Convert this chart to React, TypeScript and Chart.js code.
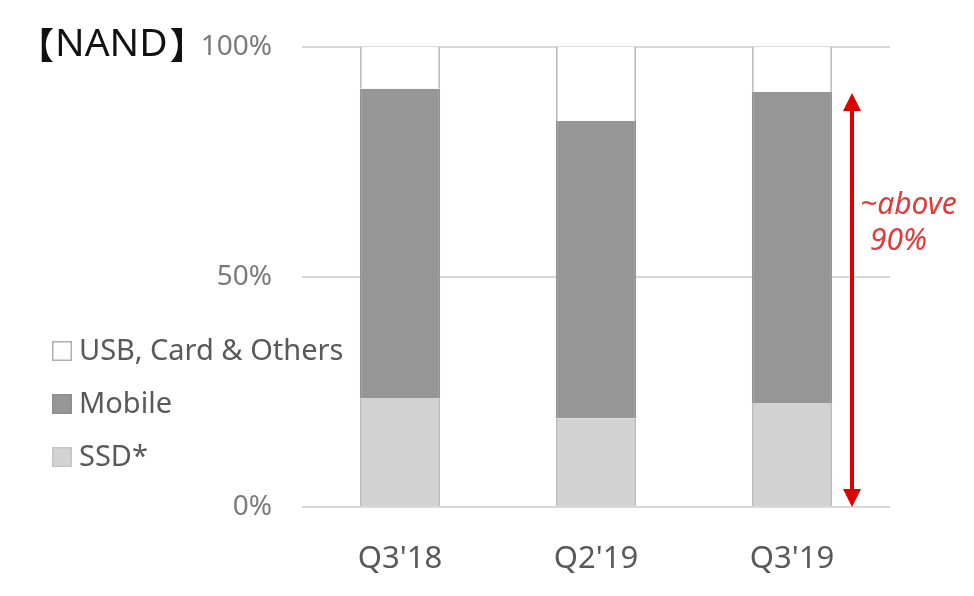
import React, { useEffect, useRef } from "react";
import { Chart, registerables } from "chart.js";

Chart.register(...registerables);

const quarters = ["Q3'18", "Q2'19", "Q3'19"];
const ssdShare = [23.7, 19.3, 22.6];
const mobileShare = [67.2, 64.6, 67.6];
const othersShare = [9.1, 16.1, 9.8];
const yTicks = [0, 50, 100];
const arrowRange = [0, 90];
const noteLines = ["~above", "90%"];
const titleText = "NAND";

const FONT = '"Noto Sans", "Noto Sans CJK KR", sans-serif';

// title, left legend, red arrow and its note
const extrasPlugin = {
  id: "extras",
  afterDraw(chart: any) {
    const ctx = chart.ctx as CanvasRenderingContext2D;
    const xs = chart.scales.x;
    const ys = chart.scales.y;
    ctx.save();

    // 【NAND】 with narrow brackets
    ctx.fillStyle = "#111";
    ctx.textBaseline = "middle";
    ctx.textAlign = "left";
    ctx.font = `39px ${FONT}`;
    const tw = ctx.measureText(titleText).width;
    ctx.fillText(titleText, 55, 45);
    ctx.font = `bold 36px "Noto Sans CJK KR", ${FONT}`;
    const open = ctx.measureText("【");
    ctx.fillText("【", 53 - open.actualBoundingBoxRight, 45);
    const close = ctx.measureText("】");
    ctx.fillText("】", 55 + tw + 3 + close.actualBoundingBoxLeft, 45);

    // legend, top item = top of the stack
    const items = [...chart.data.datasets].reverse();
    ctx.font = `29px ${FONT}`;
    items.forEach((ds: any, i: number) => {
      const cy = 351 + i * 53;
      ctx.fillStyle = ds.backgroundColor;
      ctx.fillRect(52, cy - 10, 20, 20);
      ctx.strokeStyle = ds.legendBorder;
      ctx.lineWidth = 1.5;
      ctx.strokeRect(52.75, cy - 9.25, 18.5, 18.5);
      ctx.fillStyle = "#595959";
      ctx.fillText(ds.label, 79, cy + 1);
    });

    // arrow
    const ax = xs.getPixelForValue(quarters.length - 1) + 60;
    const yTop = ys.getPixelForValue(arrowRange[1]);
    const yBot = ys.getPixelForValue(arrowRange[0]);
    const head = 18;
    ctx.strokeStyle = "#e00000";
    ctx.fillStyle = "#e00000";
    ctx.lineWidth = 4;
    ctx.beginPath();
    ctx.moveTo(ax, yTop + head);
    ctx.lineTo(ax, yBot - head);
    ctx.stroke();
    ctx.beginPath();
    ctx.moveTo(ax, yTop);
    ctx.lineTo(ax - 9, yTop + head);
    ctx.lineTo(ax + 9, yTop + head);
    ctx.closePath();
    ctx.fill();
    ctx.beginPath();
    ctx.moveTo(ax, yBot);
    ctx.lineTo(ax - 9, yBot - head);
    ctx.lineTo(ax + 9, yBot - head);
    ctx.closePath();
    ctx.fill();

    ctx.fillStyle = "#e23a3a";
    ctx.font = `italic 30px ${FONT}`;
    ctx.textBaseline = "alphabetic";
    ctx.fillText(noteLines[0], ax + 8, 214);
    ctx.fillText(noteLines[1], ax + 18, 250);
    ctx.restore();
  },
};

const App: React.FC = () => {
  const canvasRef = useRef<HTMLCanvasElement>(null);

  useEffect(() => {
    document.body.style.margin = "0";
    if (!canvasRef.current) return;
    const chart = new Chart(canvasRef.current, {
      type: "bar",
      data: {
        labels: quarters,
        datasets: [
          {
            label: "SSD*",
            data: ssdShare,
            backgroundColor: "#d3d3d3",
            borderColor: "#bdbdbd",
            borderWidth: { left: 2, right: 2, top: 0, bottom: 0 },
            legendBorder: "#c4c4c4",
          } as any,
          {
            label: "Mobile",
            data: mobileShare,
            backgroundColor: "#969696",
            borderColor: "#939393",
            borderWidth: { left: 2, right: 2, top: 0, bottom: 0 },
            legendBorder: "#8e8e8e",
          },
          {
            label: "USB, Card & Others",
            data: othersShare,
            backgroundColor: "#ffffff",
            borderColor: "#bfbfbf",
            borderWidth: { left: 2, right: 2, top: 0, bottom: 0 },
            legendBorder: "#b0b0b0",
          },
        ],
      },
      options: {
        responsive: false,
        animation: false,
        devicePixelRatio: 1,
        layout: { padding: { top: 47, right: 84, left: 0, bottom: 0 } },
        plugins: {
          legend: { display: false },
          tooltip: { enabled: false },
        },
        datasets: { bar: { categoryPercentage: 1, barPercentage: 0.41 } },
        scales: {
          x: {
            stacked: true,
            grid: { display: false },
            border: { display: false },
            ticks: {
              color: "#595959",
              font: { family: FONT, size: 31 },
              padding: 26,
            },
            afterFit: (s: any) => {
              s.height = 89;
            },
          },
          y: {
            stacked: true,
            min: 0,
            max: 100,
            afterBuildTicks: (s: any) => {
              s.ticks = yTicks.map((v) => ({ value: v }));
            },
            grid: { color: "#d9d9d9", lineWidth: 2, drawTicks: false },
            border: { display: false },
            ticks: {
              color: "#7a7a7a",
              font: { family: FONT, size: 28 },
              padding: 30,
              callback: (v: any) => `${v}%`,
            },
            afterFit: (s: any) => {
              s.width = 302;
            },
          },
        },
      },
      plugins: [extrasPlugin],
    });
    return () => chart.destroy();
  }, []);

  return (
    <div style={{ position: "absolute", left: 0, top: 0, width: 974, height: 596, background: "#fff" }}>
      <canvas ref={canvasRef} width={974} height={596} />
    </div>
  );
};

export default App;
